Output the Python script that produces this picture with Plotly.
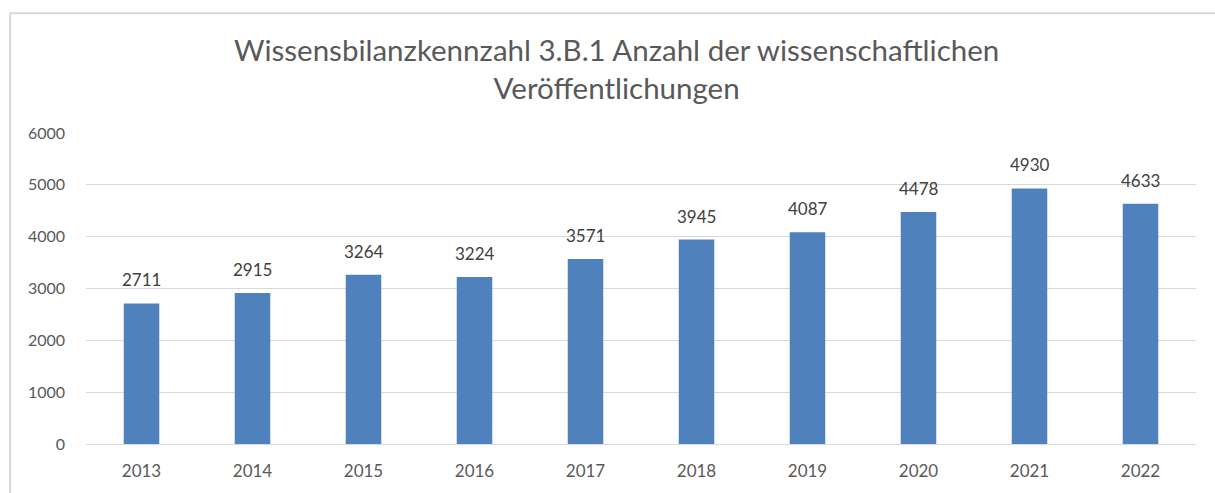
import plotly.graph_objects as go

years = ["2013", "2014", "2015", "2016", "2017", "2018", "2019", "2020", "2021", "2022"]
values = [2711, 2915, 3264, 3224, 3571, 3945, 4087, 4478, 4930, 4633]
y_ticks = [0, 1000, 2000, 3000, 4000, 5000, 6000]
title_text = "Wissensbilanzkennzahl 3.B.1 Anzahl der wissenschaftlichen<br>Veröffentlichungen"

FONT = "Lato, Calibri, 'Open Sans', sans-serif"

fig = go.Figure(
    go.Bar(
        x=years,
        y=values,
        marker=dict(color="#4f81bd", line=dict(width=0)),
        hoverinfo="x+y",
    )
)

# category axis: annotations positioned by category index
annotations = [
    dict(
        x=i, y=v, xref="x", yref="y",
        text=str(v), showarrow=False,
        yanchor="bottom", yshift=11,
        font=dict(size=17, color="#404040", family=FONT),
    )
    for i, v in enumerate(values)
]
annotations.append(
    dict(
        x=(616 - 86) / 1110, y=(450 - 67) / 317, xref="paper", yref="paper",
        text=title_text, showarrow=False,
        xanchor="center", yanchor="middle", align="center",
        font=dict(size=29.5, color="#595959", family=FONT),
    )
)

fig.update_layout(
    width=1215,
    height=493,
    margin=dict(l=86, r=19, t=133, b=43),
    paper_bgcolor="white",
    plot_bgcolor="white",
    bargap=0.68,
    showlegend=False,
    annotations=annotations,
    xaxis=dict(
        type="category",
        range=[-0.5, len(years) - 0.5],
        showgrid=False,
        showline=False,
        ticks="",
        ticklabelstandoff=15,
        tickfont=dict(size=17, color="#595959", family=FONT),
    ),
    yaxis=dict(
        range=[0, 6000],
        tickvals=y_ticks,
        showgrid=True,
        gridcolor="#d9d9d9",
        gridwidth=1,
        zeroline=True,
        zerolinecolor="#d9d9d9",
        zerolinewidth=1,
        showline=False,
        ticks="",
        ticklabelstandoff=20,
        tickfont=dict(size=16, color="#595959", family=FONT),
    ),
    shapes=[
        dict(
            type="rect", xref="paper", yref="paper",
            x0=-76 / 1110, x1=1.2, y0=-0.5, y1=1 + 122 / 317,
            line=dict(color="#d9d9d9", width=2),
            fillcolor="rgba(0,0,0,0)",
            layer="below",
        )
    ],
)

fig.write_html("out.html")
